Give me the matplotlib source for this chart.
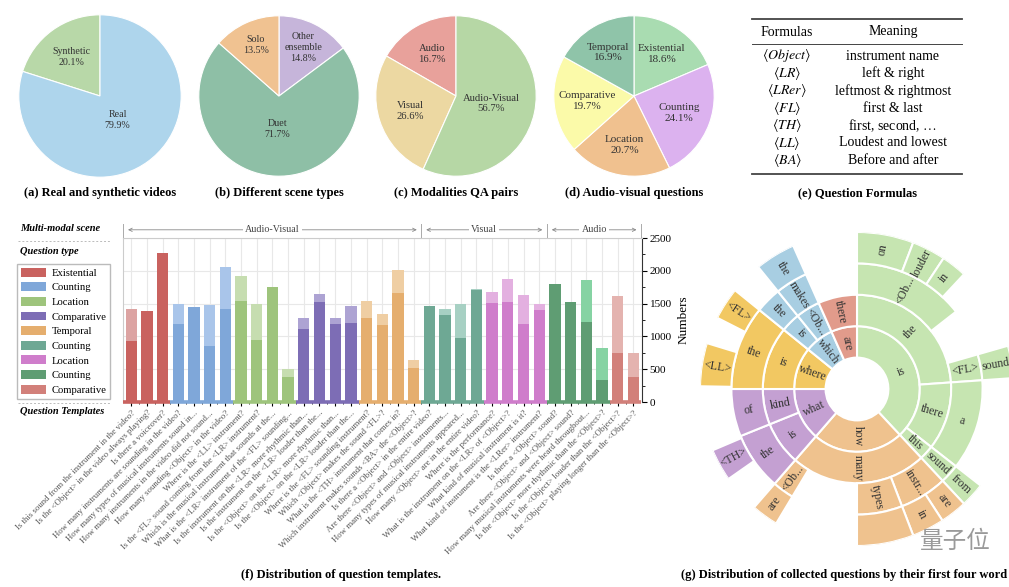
import numpy as np
import matplotlib.pyplot as plt
from matplotlib.patches import Patch
from matplotlib.lines import Line2D
from matplotlib.transforms import blended_transform_factory

plt.rcParams['font.family'] = ['Liberation Serif', 'DejaVu Serif']
plt.rcParams['mathtext.fontset'] = 'stix'

W, H = 1009, 587

# ---------------- data ----------------
video_labels = ["Synthetic", "Real"]
video_pct = [20.1, 79.9]

scene_labels = ["Other\nensemble", "Duet", "Solo"]
scene_pct = [14.8, 71.7, 13.5]

modal_labels = ["Audio", "Visual", "Audio-Visual"]
modal_pct = [16.7, 26.6, 56.7]

avq_labels = ["Existential", "Counting", "Location", "Comparative", "Temporal"]
avq_pct = [18.6, 24.1, 20.7, 19.7, 16.9]

formulas = [r"$\langle Object\rangle$", r"$\langle LR\rangle$", r"$\langle LRer\rangle$",
            r"$\langle FL\rangle$", r"$\langle TH\rangle$", r"$\langle LL\rangle$",
            r"$\langle BA\rangle$"]
meanings = ["instrument name", "left & right", "leftmost & rightmost", "first & last",
            r"first, second, $\ldots$", "Loudest and lowest", "Before and after"]

templates = [
    "Is this sound from the instrument in the video?",
    "Is the <Object> in the video always playing?",
    "Is there a voiceover?",
    "How many instruments are sounding in the video?",
    "How many types of musical instruments sound in...",
    "How many instruments in the video did not sound...",
    "How many sounding <Object> in the video?",
    "Where is the <LL> instrument?",
    "Is the <FL> sound coming from the <LR> instrument?",
    "Which is the musical instrument that sounds at the...",
    "What is the <LR> instrument of the <FL> sounding...",
    "Is the instrument on the <LR> more rhythmic than...",
    "Is the instrument on the <LR> louder than the...",
    "Is the <Object> on the <LR> more rhythmic than...",
    "Is the <Object> on the <LR> louder than the...",
    "Where is the <FL> sounding instrument?",
    "Which <Object> makes the sound <FL>?",
    "What is the <TH> instrument that comes in?",
    "Which instrument makes sounds <BA> the <Object>?",
    "Is there a <Object> in the entire video?",
    "Are there <Object> and <Object> instruments...",
    "How many types of musical instruments appeared...",
    "How many <Object> are in the entire video?",
    "Where is the performance?",
    "What is the instrument on the <LR> of <Object>?",
    "What kind of musical instrument is it?",
    "What kind of instrument is the <LRer> instrument?",
    "Is there a <Object> sound?",
    "Are there <Object> and <Object> sound?",
    "How many musical instruments were heard throughout...",
    "Is the <Object> more rhythmic than the <Object>?",
    "Is the <Object> louder than the <Object>?",
    "Is the <Object> playing longer than the <Object>?",
]
totals = [1413, 1392, 2264, 1499, 1448, 1484, 2060, 1928, 1489, 1754, 510,
          1285, 1647, 1285, 1469, 1542, 1342, 2013, 640, 1465, 1419, 1496,
          1721, 1670, 1870, 1624, 1496, 1798, 1532, 1855, 830, 1614, 753]
bases = [933, 1392, 2264, 1183, 1448, 857, 1413, 1540, 949, 1754, 383,
         1112, 1520, 1183, 1199, 1276, 1173, 1655, 523, 1465, 1322, 973,
         1706, 1511, 1532, 1189, 1399, 1798, 1532, 1224, 328, 753, 374]

type_names = ["Existential", "Counting", "Location", "Comparative", "Temporal",
              "Counting", "Location", "Counting", "Comparative"]
type_sizes = [3, 4, 4, 4, 4, 4, 4, 4, 2]
scene_names = ["Audio-Visual", "Visual", "Audio"]
scene_sizes = [19, 8, 6]

# sunburst: rings of (label, span in degrees clockwise from top, family); None = empty
ring1 = [("is", 137, 0), ("how", 84, 1), ("what", 49, 2), ("where", 39, 3),
         ("which", 27, 4), ("are", 24, 5)]
ring2 = [("the", 86, 0), ("there", 42, 0), ("this", 9, 0), ("many", 84, 1),
         ("is", 27, 2), ("kind", 22, 2), ("is", 39, 3), ("is", 12, 4),
         ("<Ob...", 15, 4), ("there", 24, 5)]
ring3 = [("<Ob...", 52, 0), (None, 22, -1), ("<FL>", 12, 0), ("a", 42, 0),
         ("sound", 9, 0), ("instr...", 22, 1), ("types", 21, 1), (None, 31, -1),
         ("<Ob...", 10, 1), ("the", 27, 2), ("of", 22, 2), ("the", 39, 3),
         ("the", 12, 4), ("makes", 15, 4), (None, 24, -1)]
ring4 = [("on", 21, 0), ("louder", 12.5, 0), ("in", 9.5, 0), (None, 31, -1),
         ("sound", 12, 0), (None, 42, -1), ("from", 9, 0), ("are", 10, 1),
         ("in", 12, 1), ("", 21, 1), (None, 31, -1), ("are", 10, 1),
         (None, 14, -1), ("<TH>", 12, 2), (None, 24, -1), ("<LL>", 16, 3),
         (None, 10, -1), ("<FL>", 12, 3), (None, 12, -1), ("the", 15, 4),
         (None, 24, -1)]

# ---------------- styles ----------------
type_dark = ['#c9625f', '#7fa7d9', '#9ec47c', '#7d6db5', '#e5ae6e',
             '#6ea894', '#cf7dcb', '#5f9d73', '#d2807a']
type_light = ['#dca3a2', '#a9c5ea', '#c6ddb0', '#ada3d3', '#efcea3',
              '#a7d0c3', '#e3b0e0', '#86d3a3', '#e4b3af']
sun_colors = ['#c6e5b1', '#efc28e', '#c4a0d2', '#f2c862', '#a8cee2', '#e19b8b']

fig = plt.figure(figsize=(W / 100, H / 100), dpi=100)


def px_axes(x, y, w, h, **kw):
    return fig.add_axes([x / W, 1 - (y + h) / H, w / W, h / H], **kw)


def fx(x):
    return x / W


def fy(y):
    return 1 - y / H


# ---------------- pies ----------------
def draw_pie(cx, cy, r, values, labels, colors, counterclock, label_r, caption, fs):
    ax = px_axes(cx - r, cy - r, 2 * r, 2 * r)
    wedges, _ = ax.pie(values, colors=colors, startangle=90, counterclock=counterclock,
                       wedgeprops=dict(edgecolor='white', linewidth=0.8))
    ax.set_xlim(-1.01, 1.01)
    ax.set_ylim(-1.01, 1.01)
    for w, lab, v, lr in zip(wedges, labels, values, label_r):
        mid = np.deg2rad((w.theta1 + w.theta2) / 2)
        ax.text(lr * np.cos(mid), lr * np.sin(mid), f"{lab}\n{v}%", ha='center',
                va='center', fontsize=fs, linespacing=1.25, color='#333333')
    fig.text(fx(cx), fy(193), caption, ha='center', va='center', fontsize=9,
             fontweight='bold')


draw_pie(100, 96, 82, video_pct, video_labels, ['#b8d8a8', '#aed5ec'], True,
         [0.59, 0.37], "(a) Real and synthetic videos", 7.2)
draw_pie(279, 96, 81, scene_pct, scene_labels, ['#c6b5da', '#8ebfa6', '#f0c291'], False,
         [0.68, 0.41, 0.70], "(b) Different scene types", 7.2)
draw_pie(456, 96, 81, modal_pct, modal_labels, ['#e8a19b', '#ecd8a2', '#b6d7a5'], True,
         [0.6, 0.6, 0.45], "(c) Modalities QA pairs", 7.7)
draw_pie(634, 96, 81, avq_pct, avq_labels,
         ['#a9dcb1', '#dcb2ef', '#f0c18f', '#fbfaa9', '#8fc4a9'], False,
         [0.63, 0.6, 0.62, 0.59, 0.63], "(d) Audio-visual questions", 8)

# ---------------- table ----------------
axt = px_axes(740, 10, 240, 175)
axt.set_xlim(740, 980)
axt.set_ylim(185, 10)
axt.axis('off')
axt.plot([752, 962], [19, 19], color='#444444', lw=1.3)
axt.plot([752, 962], [44, 44], color='#444444', lw=0.7)
axt.plot([752, 962], [174, 174], color='#444444', lw=1.3)
axt.text(787, 32, "Formulas", ha='center', va='center', fontsize=10)
axt.text(893, 32, "Meaning", ha='center', va='center', fontsize=10)
for i, (f, m) in enumerate(zip(formulas, meanings)):
    yy = 56 + i * 17.4
    axt.text(787, yy, f, ha='center', va='center', fontsize=10)
    axt.text(893, yy, m, ha='center', va='center', fontsize=10)
fig.text(fx(857), fy(193), "(e) Question Formulas", ha='center', va='center',
         fontsize=9, fontweight='bold')

# ---------------- bar chart ----------------
ax = px_axes(123, 238, 519, 164)
x = np.arange(len(templates))
bar_group = np.repeat(np.arange(len(type_names)), type_sizes)
dark = [type_dark[g] for g in bar_group]
light = [type_light[g] for g in bar_group]
tops = np.array(totals) - np.array(bases)
ax.bar(x, bases, width=0.72, color=dark, zorder=2)
ax.bar(x, tops, bottom=bases, width=0.72, color=light, zorder=2)
for i, g in enumerate(bar_group):
    ax.plot([i - 0.5, i + 0.5], [0, 0], color=type_dark[g], lw=2.6,
            solid_capstyle='butt', clip_on=False, zorder=4)

ax.set_xlim(-0.52, len(templates) - 0.45)
ax.set_ylim(0, 2500)
ax.set_axisbelow(True)
ax.grid(color='#e8e8e8', lw=0.8)
ax.yaxis.tick_right()
ax.yaxis.set_label_position('right')
ax.set_yticks(np.arange(0, 2501, 500))
ax.set_yticks(np.arange(250, 2500, 500), minor=True)
ax.set_xticks(x)
ax.set_xticks(x[:-1] + 0.5, minor=True)
ax.set_xticklabels(templates, rotation=45, ha='right', va='top',
                   rotation_mode='anchor', fontsize=6.3, color='#555555')
ax.tick_params(axis='x', which='major', length=3, width=0.8, pad=2)
ax.tick_params(axis='x', which='minor', length=1.5, width=0.6)
ax.tick_params(axis='y', which='major', length=3.5, labelsize=8, pad=2)
ax.tick_params(axis='y', which='minor', length=2)
ax.set_ylabel("Numbers", fontsize=9.5, labelpad=4)
for side in ['left', 'top']:
    ax.spines[side].set_color('#cccccc')
ax.spines['bottom'].set_visible(False)
ax.spines['right'].set_color('#333333')

# scene header above bars
tr = blended_transform_factory(ax.transData, ax.transAxes)
edges = np.concatenate([[0], np.cumsum(scene_sizes)]) - 0.5
for e in edges:
    ax.plot([e, e], [1.0, 1.085], transform=tr, color='#aaaaaa', lw=0.7, clip_on=False)
for name, a, b in zip(scene_names, edges[:-1], edges[1:]):
    ax.annotate('', xy=(a + 0.12, 1.05), xytext=(b - 0.12, 1.05), xycoords=tr,
                textcoords=tr, arrowprops=dict(arrowstyle='<->', color='#888888',
                                               lw=0.6, mutation_scale=6))
    ax.text((a + b) / 2, 1.05, name, transform=tr, ha='center', va='center',
            fontsize=7.2, color='#444444',
            bbox=dict(facecolor='white', edgecolor='none', pad=1.5))

# left annotation column
fig.text(fx(20), fy(228), "Multi-modal scene", fontsize=7.5, fontweight='bold',
         fontstyle='italic', va='center')
fig.add_artist(Line2D([fx(18), fx(110)], [fy(241), fy(241)], color='#bbbbbb', lw=0.7,
                      ls=(0, (2, 2))))
fig.text(fx(20), fy(252), "Question type", fontsize=7.5, fontweight='bold',
         fontstyle='italic', va='center')
handles = [Patch(facecolor=c) for c in type_dark]
fig.legend(handles, type_names, loc='upper left', bbox_to_anchor=(fx(17), fy(264)),
           fontsize=7.7, handlelength=2.4, handleheight=0.9, labelspacing=0.42,
           borderpad=0.35, handletextpad=0.5, borderaxespad=0, fancybox=False,
           edgecolor='#bbbbbb', framealpha=1)
fig.add_artist(Line2D([fx(18), fx(110)], [fy(403), fy(403)], color='#bbbbbb', lw=0.7,
                      ls=(0, (2, 2))))
fig.text(fx(20), fy(411), "Question Templates", fontsize=7.5, fontweight='bold',
         fontstyle='italic', va='center')
fig.text(fx(341), fy(575), "(f) Distribution of question templates.", ha='center',
         va='center', fontsize=9, fontweight='bold')

# ---------------- sunburst ----------------
R = 157
axs = px_axes(857 - R, 389 - R, 2 * R, 2 * R, projection='polar')
axs.set_theta_zero_location('N')
axs.set_theta_direction(-1)
axs.set_ylim(0, 5)
axs.set_axis_off()
for level, ring in enumerate([ring1, ring2, ring3, ring4], start=1):
    start = 0
    for lab, span, fam in ring:
        if lab is not None:
            mid = start + span / 2
            axs.bar(np.deg2rad(mid), 1, width=np.deg2rad(span), bottom=level,
                    color=sun_colors[fam], edgecolor='white', linewidth=1.5)
            if lab:
                rot = (90 - mid + 180) % 360 - 180
                if rot > 90:
                    rot -= 180
                elif rot < -90:
                    rot += 180
                axs.text(np.deg2rad(mid), level + 0.5, lab, rotation=rot,
                         rotation_mode='anchor', ha='center', va='center',
                         fontsize=8.5, color='#333333')
        start += span

fig.text(fx(681), fy(575), "(g) Distribution of collected questions by their first four word",
         ha='left', va='center', fontsize=9, fontweight='bold')

# watermark
fig.text(fx(955), fy(541), "量子位", ha='center', va='center', fontsize=17,
         color='#9a9a9a', family=['Noto Sans CJK SC', 'DejaVu Sans'])

fig.savefig("out.png", dpi=100)
